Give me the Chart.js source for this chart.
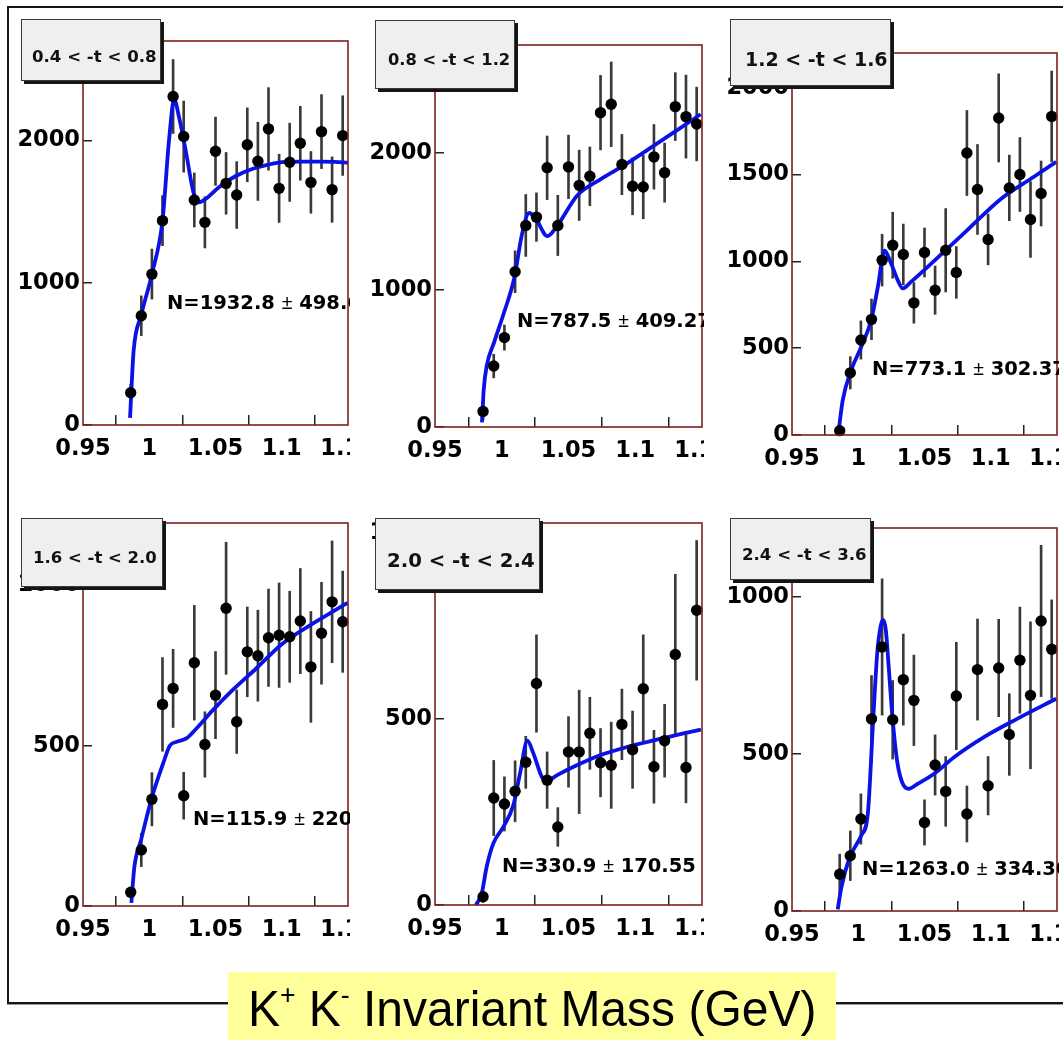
<!DOCTYPE html>
<html><head><meta charset="utf-8">
<script src="https://cdn.jsdelivr.net/npm/chart.js@4.4.1/dist/chart.umd.min.js"></script>
<style>
html,body{margin:0;padding:0;background:#fff;}
body{width:1063px;height:1040px;position:relative;overflow:hidden;font-family:'DejaVu Sans',sans-serif;}
.outer{position:absolute;left:7px;top:6px;width:1100px;height:998px;box-sizing:border-box;border:2px solid #161616;box-shadow:0 1px 0 #9a9a9a;}
.panel{position:absolute;overflow:hidden;}
.panel canvas{position:absolute;left:0;top:0;}
.tbox{position:absolute;box-sizing:border-box;background:#efefef;border:1px solid #3a3a3a;box-shadow:3px 3px 0 #151515;}
.tlab{position:absolute;white-space:nowrap;font-family:'DejaVu Sans',sans-serif;font-weight:bold;color:#111;line-height:20px;}
.nlab{position:absolute;white-space:nowrap;font-family:'DejaVu Sans',sans-serif;font-weight:bold;font-size:19.5px;line-height:20px;color:#000;}
.pm{font-family:'Liberation Sans',sans-serif;font-weight:normal;}
.xtitle{position:absolute;left:228px;top:972px;width:608px;height:80px;background:#ffff99;}
.xtitle .t{position:absolute;left:20px;top:8px;font-family:'Liberation Sans',Arial,sans-serif;font-size:50px;line-height:normal;white-space:nowrap;color:#000;transform:scaleX(0.96);transform-origin:0 0;}
.xtitle sup{font-size:55%;line-height:0;vertical-align:0.8em;}
</style></head>
<body>
<div class="outer"></div>
<div id="root"></div>
<div class="xtitle"><span class="t" id="xt"></span></div>
<script>
// ---------------- data ----------------
const massBins = [0.986, 0.994, 1.002, 1.010, 1.018, 1.026, 1.034, 1.042, 1.050, 1.058, 1.066,
                  1.074, 1.082, 1.090, 1.098, 1.106, 1.114, 1.122, 1.130, 1.138, 1.146];
const xTickValues = [0.95, 1.0, 1.05, 1.1, 1.15];
const xTickLabels = ['0.95', '1', '1.05', '1.1', '1.15'];
const tRangeLabels = ['0.4 < -t < 0.8', '0.8 < -t < 1.2', '1.2 < -t < 1.6',
                      '1.6 < -t < 2.0', '2.0 < -t < 2.4', '2.4 < -t < 3.6'];
const yieldLabels = ['N=1932.8 ± 498.6', 'N=787.5 ± 409.27', 'N=773.1 ± 302.37',
                     'N=115.9 ± 220', 'N=330.9 ± 170.55', 'N=1263.0 ± 334.30'];
const xAxisTitle = ['K', '+', ' K', '-', ' Invariant Mass (GeV)'];

// panel 1 : 0.4 < -t < 0.8
const counts1 = [227, 768, 1061, 1437, 2310, 2028, 1582, 1425, 1925, 1699, 1617, 1970, 1854, 2082, 1664, 1847, 1981, 1706, 2063, 1655, 2035];
const errors1 = [60, 140, 176, 176, 260, 250, 190, 180, 240, 217, 235, 260, 275, 290, 240, 275, 260, 217, 260, 230, 280];
const fitMass1 = [0.9855, 0.9882, 0.9938, 1.0020, 1.0100, 1.0149, 1.0188, 1.0225, 1.0275, 1.0325, 1.0350, 1.0375, 1.0425, 1.0526, 1.0650, 1.0777, 1.0900, 1.1025, 1.1150, 1.1280, 1.1400, 1.1500];
const fitCounts1 = [50, 521, 768, 1061, 1437, 2000, 2290, 2164, 1930, 1671, 1582, 1566, 1589, 1671, 1749, 1800, 1831, 1850, 1852, 1852, 1850, 1845];
const yTicks1 = [0, 1000, 2000];
const yMax1 = 2700;

// panel 2 : 0.8 < -t < 1.2
const counts2 = [114, 445, 653, 1134, 1472, 1533, 1893, 1472, 1900, 1765, 1831, 2296, 2357, 1917, 1758, 1753, 1973, 1858, 2340, 2267, 2213];
const errors2 = [60, 86, 92, 153, 226, 177, 232, 220, 232, 257, 214, 272, 309, 220, 208, 232, 236, 216, 248, 303, 269];
const fitMass2 = [0.9852, 0.9865, 0.9887, 0.9942, 1.0017, 1.0092, 1.0155, 1.0205, 1.0255, 1.0342, 1.0417, 1.0567, 1.0742, 1.0917, 1.1117, 1.1317, 1.1490];
const fitCounts2 = [34, 274, 445, 616, 836, 1081, 1423, 1563, 1521, 1394, 1472, 1692, 1810, 1912, 2040, 2170, 2284];
const yTicks2 = [0, 1000, 2000];
const yMax2 = 2790;

// panel 3 : 1.2 < -t < 1.6
const counts3 = [25, 358, 547, 666, 1007, 1093, 1040, 761, 1051, 834, 1064, 936, 1624, 1414, 1126, 1826, 1423, 1500, 1241, 1391, 1835];
const errors3 = [20, 93, 110, 117, 149, 190, 175, 117, 141, 139, 240, 149, 245, 259, 146, 254, 189, 213, 218, 187, 261];
const fitMass3 = [0.9850, 0.9883, 0.9947, 1.0023, 1.0098, 1.0148, 1.0198, 1.0248, 1.0298, 1.0336, 1.0398, 1.0573, 1.0823, 1.1074, 1.1323, 1.1494];
const fitCounts3 = [10, 201, 374, 508, 662, 853, 1061, 988, 892, 844, 882, 1003, 1180, 1358, 1486, 1573];
const yTicks3 = [0, 500, 1000, 1500, 2000];
const yMax3 = 2200;

// panel 4 : 1.6 < -t < 2.0
const counts4 = [43, 175, 333, 629, 679, 344, 759, 504, 658, 929, 575, 793, 781, 837, 845, 840, 889, 746, 851, 949, 887];
const errors4 = [15, 52, 83, 146, 122, 73, 179, 102, 136, 206, 99, 140, 142, 152, 163, 142, 164, 173, 159, 190, 158];
const fitMass4 = [0.9865, 0.9888, 0.9938, 1.0018, 1.0105, 1.0155, 1.0205, 1.0280, 1.0356, 1.0480, 1.0630, 1.0807, 1.1007, 1.1258, 1.1496];
const fitCounts4 = [10, 123, 206, 336, 445, 500, 512, 523, 554, 611, 674, 741, 819, 887, 946];
const yTicks4 = [0, 500, 1000];
const yMax4 = 1195;

// panel 5 : 2.0 < -t < 2.4
const counts5 = [22, 288, 272, 306, 384, 596, 336, 210, 412, 412, 462, 383, 376, 486, 418, 582, 372, 442, 674, 370, 793];
const errors5 = [15, 101, 73, 82, 70, 131, 76, 52, 95, 166, 97, 92, 116, 95, 104, 145, 98, 98, 216, 95, 188];
const fitMass5 = [0.9807, 0.9850, 0.9887, 0.9937, 1.0012, 1.0087, 1.0137, 1.0192, 1.0237, 1.0300, 1.0337, 1.0412, 1.0562, 1.0737, 1.0937, 1.1163, 1.1362, 1.1492];
const fitCounts5 = [0, 31, 103, 166, 210, 269, 354, 442, 408, 345, 333, 349, 376, 403, 425, 445, 462, 472];
const yTicks5 = [0, 500, 1000];
const yMax5 = 1028;

// panel 6 : 2.4 < -t < 3.6
const counts6 = [117, 176, 293, 612, 841, 609, 737, 671, 282, 465, 381, 685, 309, 769, 399, 774, 562, 799, 687, 924, 834];
const errors6 = [64, 79, 80, 138, 217, 125, 145, 144, 72, 96, 111, 171, 89, 161, 93, 155, 130, 169, 234, 241, 157];
const fitMass6 = [0.9845, 0.9872, 0.9935, 1.0022, 1.0072, 1.0113, 1.0143, 1.0168, 1.0188, 1.0208, 1.0230, 1.0256, 1.0293, 1.0331, 1.0381, 1.0448, 1.0573, 1.0723, 1.0949, 1.1199, 1.1494];
const fitCounts6 = [5, 74, 170, 240, 309, 612, 820, 905, 927, 895, 777, 628, 479, 410, 389, 405, 437, 490, 554, 612, 676];
const yTicks6 = [0, 500, 1000];
const yMax6 = 1220;

const panelData = [
  {counts: counts1, errors: errors1, fitX: fitMass1, fitY: fitCounts1, yTicks: yTicks1, yMax: yMax1},
  {counts: counts2, errors: errors2, fitX: fitMass2, fitY: fitCounts2, yTicks: yTicks2, yMax: yMax2},
  {counts: counts3, errors: errors3, fitX: fitMass3, fitY: fitCounts3, yTicks: yTicks3, yMax: yMax3},
  {counts: counts4, errors: errors4, fitX: fitMass4, fitY: fitCounts4, yTicks: yTicks4, yMax: yMax4},
  {counts: counts5, errors: errors5, fitX: fitMass5, fitY: fitCounts5, yTicks: yTicks5, yMax: yMax5},
  {counts: counts6, errors: errors6, fitX: fitMass6, fitY: fitCounts6, yTicks: yTicks6, yMax: yMax6}
];

// ---------------- layout (positions / styles only) ----------------
const panelLayout = [
  {left: 10,  top: 10,  w: 340, h: 470, yW: 73, padTop: 31, xH: 55, box: [21, 19, 140, 62],  tx: 32,  ty: 57,  tfs: 16.6, nx: 167, ny: 302},
  {left: 351, top: 10,  w: 353, h: 470, yW: 84, padTop: 35, xH: 53, box: [375, 20, 140, 69], tx: 388, ty: 60,  tfs: 16.3, nx: 517, ny: 319.5},
  {left: 705, top: 10,  w: 354, h: 470, yW: 87, padTop: 43, xH: 45, box: [730, 19, 161, 67], tx: 745, ty: 58.7, tfs: 19.0, nx: 872, ny: 367.5},
  {left: 10,  top: 480, w: 340, h: 480, yW: 73, padTop: 43, xH: 54, box: [21, 518, 142, 69], tx: 33,  ty: 558, tfs: 16.5, nx: 193, ny: 817.5},
  {left: 351, top: 480, w: 353, h: 480, yW: 84, padTop: 43, xH: 55, box: [375, 518, 165, 72], tx: 387, ty: 561, tfs: 19.7, nx: 502, ny: 864.7},
  {left: 705, top: 480, w: 354, h: 480, yW: 87, padTop: 48, xH: 49, box: [730, 518, 141, 62], tx: 742, ty: 555, tfs: 16.6, nx: 862, ny: 867.5}
];

const framePlugin = {
  id: 'frame',
  afterDatasetsDraw(chart) {
    const a = chart.chartArea, ctx = chart.ctx;
    ctx.save();
    ctx.strokeStyle = '#7e2020';
    ctx.lineWidth = 1.6;
    ctx.strokeRect(a.left, a.top, a.right - a.left, a.bottom - a.top);
    ctx.restore();
  }
};

const tickFont = {family: 'DejaVu Sans', weight: 'bold', size: 22.5};
const root = document.getElementById('root');

panelData.forEach((d, i) => {
  const L = panelLayout[i];
  const div = document.createElement('div');
  div.className = 'panel';
  Object.assign(div.style, {left: L.left + 'px', top: L.top + 'px', width: L.w + 'px', height: L.h + 'px'});
  const cv = document.createElement('canvas');
  cv.width = L.w + 20; cv.height = L.h;
  cv.style.width = (L.w + 20) + 'px'; cv.style.height = L.h + 'px';
  div.appendChild(cv);
  root.appendChild(div);

  const padRight = 2 + 20;
  new Chart(cv.getContext('2d'), {
    type: 'line',
    data: {
      datasets: [
        {
          type: 'line', order: 0, showLine: false,
          data: massBins.map((x, k) => ({x: x, y: d.counts[k]})),
          pointRadius: 5.7, pointStyle: 'circle', pointBackgroundColor: '#000', pointBorderWidth: 0,
          borderWidth: 0, clip: 8
        },
        {
          type: 'line', order: 1,
          data: d.fitX.map((x, k) => ({x: x, y: d.fitY[k]})),
          borderColor: '#0a12e6', borderWidth: 3.8, pointRadius: 0,
          cubicInterpolationMode: 'monotone', fill: false, clip: 4
        },
        {
          type: 'bar', order: 2,
          data: massBins.map((x, k) => ({x: x, y: [d.counts[k] - d.errors[k], d.counts[k] + d.errors[k]]})),
          backgroundColor: '#3a3a3a', borderWidth: 0, barThickness: 2, grouped: false
        }
      ]
    },
    options: {
      responsive: false, animation: false, devicePixelRatio: 1,
      layout: {padding: {top: L.padTop, right: padRight, left: 0, bottom: 0}},
      plugins: {legend: {display: false}, tooltip: {enabled: false}},
      events: [],
      scales: {
        x: {
          type: 'linear', min: 0.95, max: 1.15, offset: false,
          afterBuildTicks: s => { s.ticks = xTickValues.map(v => ({value: v})); },
          afterFit: s => { s.height = L.xH; s.paddingLeft = 0; s.paddingRight = 0; },
          ticks: {autoSkip: false, maxRotation: 0, minRotation: 0, padding: 21, color: '#000', font: tickFont,
                  callback: (v, k) => xTickLabels[k]},
          grid: {drawOnChartArea: false, drawTicks: true, tickLength: -10, color: '#222', lineWidth: 1.5},
          border: {display: false}
        },
        y: {
          type: 'linear', min: 0, max: d.yMax,
          afterBuildTicks: s => { s.ticks = d.yTicks.map(v => ({value: v})); },
          afterFit: s => { s.width = L.yW; s.paddingTop = 0; s.paddingBottom = 0; },
          ticks: {autoSkip: false, padding: 12, color: '#000', font: tickFont,
                  callback: (v, k) => String(d.yTicks[k])},
          grid: {drawOnChartArea: false, drawTicks: true, tickLength: -9, color: '#222', lineWidth: 1.5},
          border: {display: false}
        }
      }
    },
    plugins: [framePlugin]
  });

  // t-range label box
  const b = document.createElement('div');
  b.className = 'tbox';
  Object.assign(b.style, {left: (L.box[0] - L.left) + 'px', top: (L.box[1] - L.top) + 'px',
                          width: L.box[2] + 'px', height: L.box[3] + 'px'});
  div.appendChild(b);
  const tl = document.createElement('div');
  tl.className = 'tlab';
  tl.textContent = tRangeLabels[i];
  Object.assign(tl.style, {left: (L.tx - L.left) + 'px', top: (L.ty - L.top - 10) + 'px', fontSize: L.tfs + 'px'});
  div.appendChild(tl);

  // yield label
  const n = document.createElement('div');
  n.className = 'nlab';
  const parts = yieldLabels[i].split('±');
  n.appendChild(document.createTextNode(parts[0]));
  const pm = document.createElement('span'); pm.className = 'pm'; pm.textContent = '±';
  n.appendChild(pm);
  n.appendChild(document.createTextNode(parts[1]));
  Object.assign(n.style, {left: (L.nx - L.left) + 'px', top: (L.ny - L.top - 10) + 'px'});
  div.appendChild(n);
});

// x-axis title
const xt = document.getElementById('xt');
xt.appendChild(document.createTextNode(xAxisTitle[0]));
let s1 = document.createElement('sup'); s1.textContent = xAxisTitle[1]; xt.appendChild(s1);
xt.appendChild(document.createTextNode(xAxisTitle[2]));
let s2 = document.createElement('sup'); s2.textContent = xAxisTitle[3]; xt.appendChild(s2);
xt.appendChild(document.createTextNode(xAxisTitle[4]));
</script>
</body></html>
